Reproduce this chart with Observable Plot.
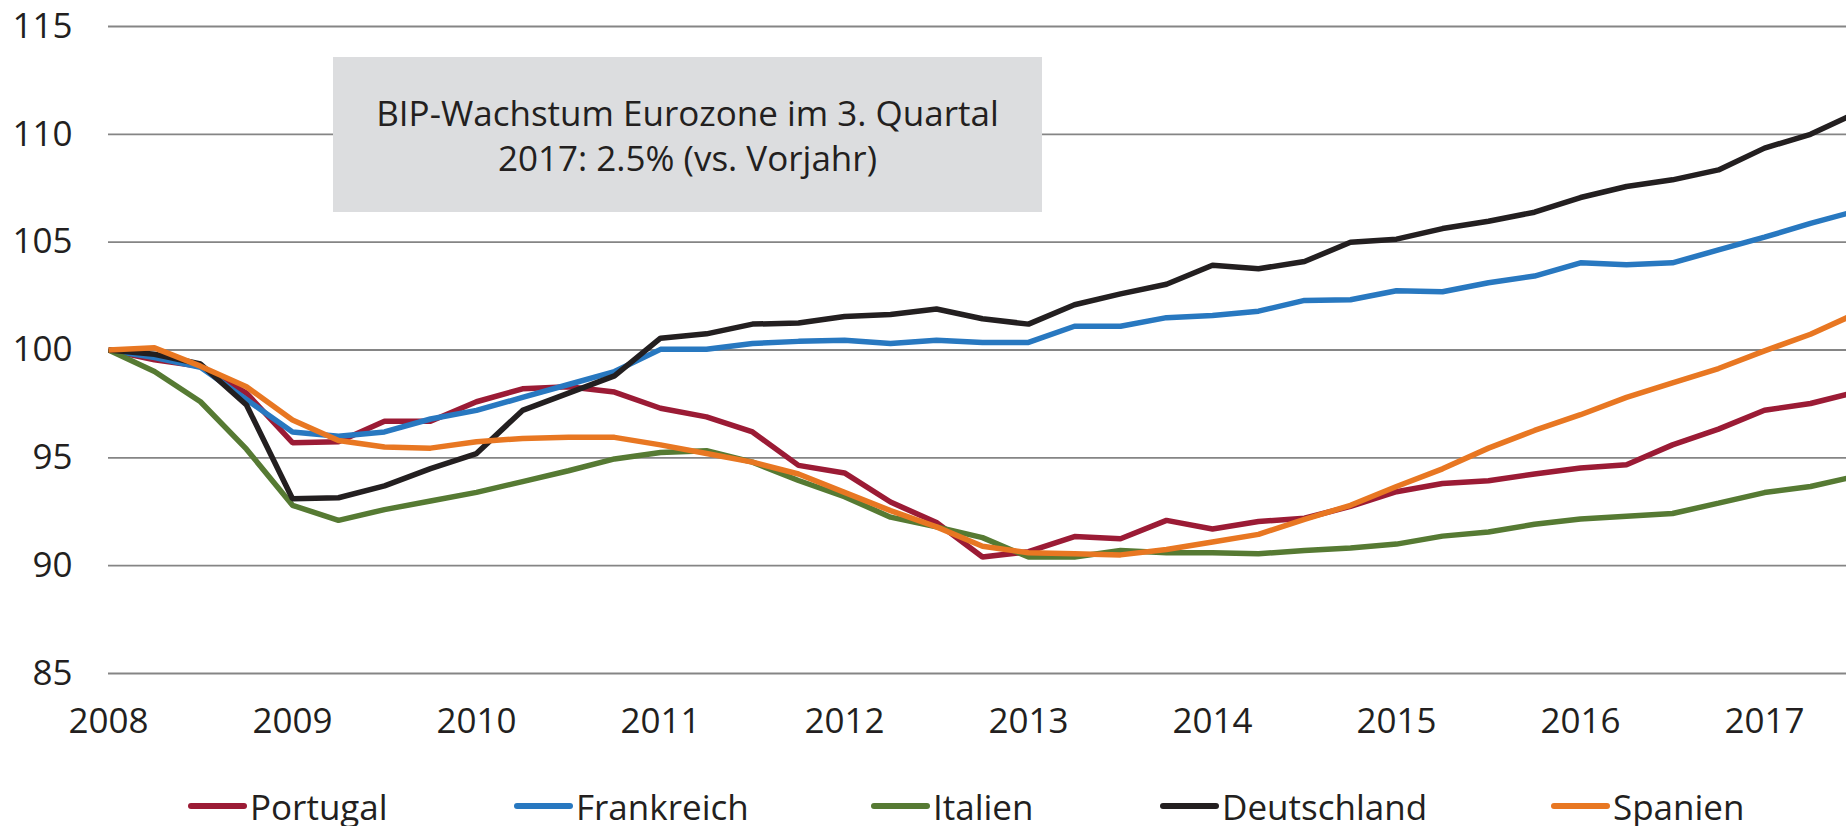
<!DOCTYPE html>
<html>
<head>
<meta charset="utf-8">
<script src="https://cdn.jsdelivr.net/npm/d3@7"></script>
<script src="https://cdn.jsdelivr.net/npm/@observablehq/plot@0.6"></script>
<style>
  html, body { margin: 0; padding: 0; background: #fff; overflow: hidden; }
  #wrap { position: relative; width: 1846px; height: 826px; font-family: "Open Sans", "Noto Sans", sans-serif; font-weight: 400; color: #231f20; }
  #chart { position: absolute; left: 0; top: 0; }
  #note { position: absolute; left: 333px; top: 57px; width: 709px; height: 155px; background: #dcdddf;
          display: flex; align-items: center; justify-content: center; text-align: center;
          font-size: 35px; line-height: 45px; }
  .leg { position: absolute; top: 782px; height: 48px; display: flex; align-items: center; font-size: 35px; white-space: nowrap; }
  .sw { width: 59px; height: 6px; border-radius: 3px; margin-right: 3px; }
</style>
</head>
<body>
<div id="wrap">
  <div id="chart"></div>
  <div id="note"></div>
  <div id="legend"></div>
</div>
<script>
// Quarterly periods (decimal year), Q1 2008 .. Q3 2017
const quarters = [
  2008.00, 2008.25, 2008.50, 2008.75,
  2009.00, 2009.25, 2009.50, 2009.75,
  2010.00, 2010.25, 2010.50, 2010.75,
  2011.00, 2011.25, 2011.50, 2011.75,
  2012.00, 2012.25, 2012.50, 2012.75,
  2013.00, 2013.25, 2013.50, 2013.75,
  2014.00, 2014.25, 2014.50, 2014.75,
  2015.00, 2015.25, 2015.50, 2015.75,
  2016.00, 2016.25, 2016.50, 2016.75,
  2017.00, 2017.25, 2017.50
];

const countries = ["Portugal", "Frankreich", "Italien", "Deutschland", "Spanien"];
const colors = ["#9b1b35", "#2878c0", "#567a33", "#231f20", "#e87722"];

const portugal = [
  100.0, 99.55, 99.25, 98.0,
  95.7, 95.75, 96.7, 96.7,
  97.6, 98.2, 98.3, 98.05,
  97.3, 96.9, 96.2, 94.65,
  94.3, 92.95, 92.0, 90.4,
  90.65, 91.35, 91.25, 92.1,
  91.7, 92.05, 92.2, 92.75,
  93.43, 93.81, 93.94, 94.25,
  94.53, 94.68, 95.6, 96.33,
  97.21, 97.52, 98.05
];
const frankreich = [
  100.0, 99.65, 99.2, 97.7,
  96.2, 96.0, 96.2, 96.8,
  97.2, 97.8, 98.4, 99.0,
  100.03, 100.03, 100.3, 100.4,
  100.45, 100.3, 100.45, 100.35,
  100.35, 101.1, 101.1, 101.5,
  101.6, 101.8, 102.3, 102.33,
  102.75, 102.7, 103.12, 103.43,
  104.04, 103.95, 104.04, 104.64,
  105.23, 105.87, 106.45
];
const italien = [
  100.0, 99.0, 97.6, 95.4,
  92.8, 92.1, 92.6, 93.0,
  93.4, 93.9, 94.4, 94.95,
  95.25, 95.33, 94.8, 93.95,
  93.2, 92.25, 91.8, 91.3,
  90.4, 90.4, 90.7, 90.6,
  90.6, 90.55, 90.7, 90.82,
  91.0, 91.37, 91.56, 91.92,
  92.16, 92.29, 92.42, 92.9,
  93.39, 93.67, 94.15
];
const deutschland = [
  100.0, 99.8, 99.35, 97.45,
  93.1, 93.15, 93.7, 94.5,
  95.2, 97.2, 98.0, 98.8,
  100.55, 100.75, 101.2, 101.25,
  101.55, 101.65, 101.9, 101.45,
  101.2, 102.1, 102.6, 103.05,
  103.93, 103.77, 104.1, 105.0,
  105.14, 105.63, 105.97, 106.39,
  107.07, 107.58, 107.89, 108.35,
  109.36, 110.0, 111.0
];
const spanien = [
  100.0, 100.1, 99.25, 98.3,
  96.75, 95.8, 95.5, 95.45,
  95.75, 95.9, 95.95, 95.95,
  95.6, 95.2, 94.8, 94.25,
  93.4, 92.55, 91.8, 90.9,
  90.6, 90.55, 90.5, 90.75,
  91.1, 91.45, 92.15, 92.8,
  93.67, 94.49, 95.45, 96.27,
  97.0, 97.8, 98.48, 99.14,
  99.96, 100.73, 101.7
];

const yearTicks = [2008, 2009, 2010, 2011, 2012, 2013, 2014, 2015, 2016, 2017];
const yTicks = [85, 90, 95, 100, 105, 110, 115];
const noteLines = ["BIP-Wachstum Eurozone im 3. Quartal", "2017: 2.5% (vs. Vorjahr)"];

const seriesValues = [portugal, frankreich, italien, deutschland, spanien];
const table = [];
countries.forEach((c, k) => {
  seriesValues[k].forEach((v, i) => table.push({country: c, t: quarters[i], v}));
});

const chart = Plot.plot({
  width: 1846,
  height: 770,
  marginLeft: 108,
  marginRight: 0,
  marginTop: 26,
  marginBottom: 97,
  style: {fontFamily: '"Open Sans", "Noto Sans", sans-serif', fontSize: "35px", fontWeight: 400, color: "#231f20", background: "transparent", overflow: "visible"},
  x: {domain: [2008, 2017.4457]},
  y: {domain: [85, 115]},
  color: {domain: countries, range: colors},
  marks: [
    Plot.ruleY(yTicks, {stroke: "#858585", strokeWidth: 1.8}),
    Plot.axisY({ticks: yTicks, tickSize: 0, tickPadding: 36, label: null, fill: "#231f20"}),
    Plot.axisX({ticks: yearTicks, tickSize: 0, tickPadding: 35, tickFormat: d => String(d), label: null, fill: "#231f20"}),
    Plot.line(table, {x: "t", y: "v", z: "country", stroke: "country", strokeWidth: 5.5, strokeLinejoin: "miter", strokeLinecap: "butt", clip: true})
  ]
});
document.getElementById("chart").appendChild(chart);

document.getElementById("note").innerHTML = noteLines.join("<br>");

const legendLeft = [188, 514, 871, 1160, 1551];
const legend = document.getElementById("legend");
countries.forEach((c, k) => {
  const item = document.createElement("div");
  item.className = "leg";
  item.style.left = legendLeft[k] + "px";
  const sw = document.createElement("div");
  sw.className = "sw";
  sw.style.background = colors[k];
  const lab = document.createElement("span");
  lab.textContent = c;
  item.appendChild(sw);
  item.appendChild(lab);
  legend.appendChild(item);
});
</script>
</body>
</html>
